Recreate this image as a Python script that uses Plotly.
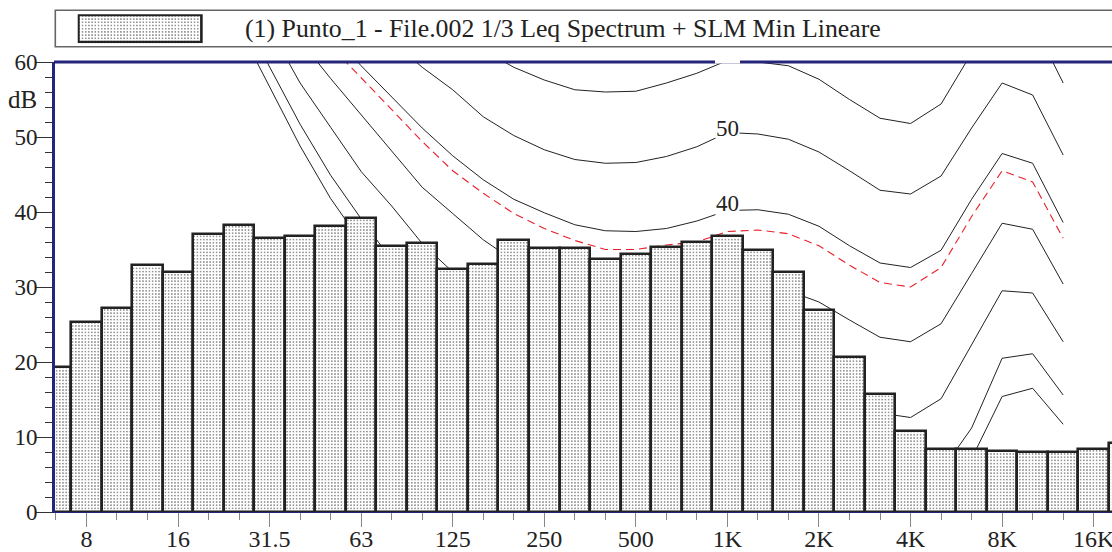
import plotly.graph_objects as go

# 1/3-octave band centre labels (6.3 Hz .. 20 kHz)
bands = ["6.3", "8", "10", "12.5", "16", "20", "25", "31.5", "40", "50", "63", "80",
         "100", "125", "160", "200", "250", "315", "400", "500", "630", "800", "1K",
         "1.25K", "1.6K", "2K", "2.5K", "3.15K", "4K", "5K", "6.3K", "8K", "10K",
         "12.5K", "16K", "20K"]

# Leq spectrum (dB)
leq = [19.3, 25.3, 27.2, 32.9, 32.0, 37.1, 38.3, 36.5, 36.8, 38.1, 39.2, 35.5,
       35.9, 32.4, 33.1, 36.3, 35.2, 35.2, 33.7, 34.4, 35.3, 36.0, 36.8, 34.9,
       32.0, 26.9, 20.7, 15.7, 10.8, 8.4, 8.4, 8.2, 8.0, 8.0, 8.4, 9.2]

N = None
# Equal-loudness contours (dB per band, None = not drawn)
curve_min = [N, N, N, N, N, N, 64.6, 56.7, 48.8, 41.8, 36.0, 28.0, 21.5, 17.0, 13.5,
             10.5, 8.5, 7.0, 6.0, 5.0, 4.5, 4.0, 4.0, 3.5, 3.0, 2.0, 1.0, 0.5, 0.5,
             1.5, 7.1, 15.4, 16.5, 11.7, N, N]
curve_10 = [N, N, N, N, N, N, 67.0, 59.3, 51.7, 44.9, 39.1, 33.6, 29.0, 25.0, 21.5,
            18.5, 16.0, 14.0, 12.5, 11.5, 11.0, 10.5, 10.0, 10.0, 9.5, 8.0, 6.0, 4.0,
            3.0, 5.4, 11.2, 20.5, 21.1, 15.6, N, N]
curve_20 = [N, N, N, N, N, N, N, 64.5, 57.2, 51.3, 45.4, 40.8, 35.8, 32.0, 29.0,
            26.5, 24.5, 23.0, 21.5, 20.5, 20.0, 20.0, 20.5, 20.5, 20.0, 18.0, 15.5,
            13.2, 12.6, 15.1, 22.3, 29.5, 29.2, 22.7, N, N]
curve_30 = [N, N, N, N, N, N, N, 69.0, 62.9, 57.8, 53.0, 48.1, 43.3, 39.8, 36.3,
            33.5, 32.0, 31.0, 30.0, 29.5, 29.5, 29.8, 30.0, 30.2, 29.5, 28.0, 25.6,
            23.3, 22.7, 25.1, 31.8, 38.5, 37.7, 30.4, N, N]
curve_40 = [N, N, N, N, N, N, N, N, 69.0, 63.9, 59.5, 55.4, 51.2, 47.5, 44.3, 41.7,
            39.9, 38.3, 37.5, 37.4, 37.8, 38.8, 40.2, 40.3, 39.7, 38.1, 35.5, 33.2,
            32.6, 34.9, 41.7, 47.8, 46.5, 38.6, N, N]
curve_50 = [N, N, N, N, N, N, N, N, N, N, 67.0, 62.8, 59.3, 56.3, 52.7, 50.2, 48.3,
            47.0, 46.5, 46.6, 47.4, 48.7, 50.6, 50.4, 49.7, 48.0, 45.5, 42.9, 42.4,
            44.8, 51.2, 57.2, 55.6, 47.6, N, N]
curve_60 = [N, N, N, N, N, N, N, N, N, N, N, N, N, 65.0, 61.6, 59.3, 57.6, 56.3,
            56.0, 56.1, 57.2, 58.5, 60.2, 60.0, 59.5, 57.7, 55.0, 52.5, 51.8, 54.4,
            61.2, 68.0, 65.4, 57.2, N, N]
slm_min = [N, N, N, N, N, N, N, N, 67.0, 62.1, 57.9, 53.7, 49.4, 45.5, 42.5, 39.8,
           37.8, 36.2, 35.0, 35.0, 35.6, 36.0, 37.4, 37.6, 37.1, 35.5, 32.9, 30.6,
           30.0, 32.6, 39.4, 45.5, 44.0, 36.5, N, N]

tick_labels = ["8", "16", "31.5", "63", "125", "250", "500", "1K", "2K", "4K", "8K", "16K"]
y_ticks = [0, 10, 20, 30, 40, 50, 60]
title_text = "(1) Punto_1 - File.002 1/3 Leq Spectrum + SLM Min Lineare"

W, H = 1112, 552
BOT = 40           # bottom margin (px)
PH = H - BOT       # paper height in px (top margin 0)
FONT = "Liberation Serif"
NAVY = "#25257a"
TXT = "#222222"

def px_x(p):
    return p / W

def px_y(p):
    return (PH - p) / PH

xs = list(range(len(bands)))
tick_pos = [bands.index(t) for t in tick_labels]
XR = [-0.03, 34.6]

fig = go.Figure()

# contours on the base axes (drawn below the bars)
for c in [curve_min, curve_10, curve_20, curve_30, curve_40, curve_50, curve_60]:
    fig.add_trace(go.Scatter(x=xs, y=c, mode="lines", xaxis="x", yaxis="y",
                             line=dict(color="#222222", width=1), hoverinfo="skip",
                             showlegend=False))
fig.add_trace(go.Scatter(x=xs, y=slm_min, mode="lines", xaxis="x", yaxis="y",
                         line=dict(color="#e8202a", width=1.1, dash="8px,5px"),
                         hoverinfo="skip", showlegend=False))

pattern = dict(shape=".", fgcolor="#111111", bgcolor="white", size=3.2,
               solidity=0.13, fillmode="replace")

# bars on an overlaying subplot so they cover the contours
fig.add_trace(go.Bar(x=xs, y=leq, xaxis="x2", yaxis="y2", width=1.0,
                     marker=dict(color="white", pattern=pattern,
                                 line=dict(color="#222222", width=2.6)),
                     hoverinfo="skip", showlegend=False))

# legend swatch
fig.add_trace(go.Bar(x=[0.5], y=[1], xaxis="x3", yaxis="y3", width=1.0,
                     marker=dict(color="white", pattern=pattern,
                                 line=dict(color="#222222", width=2.6)),
                     hoverinfo="skip", showlegend=False))

main_xdom = [px_x(55), 1.0]
main_ydom = [0.0, px_y(62)]

fig.update_layout(
    width=W, height=H, autosize=False,
    margin=dict(l=0, r=0, t=0, b=BOT, pad=0, autoexpand=False),
    paper_bgcolor="white", plot_bgcolor="white",
    bargap=0, barmode="overlay", showlegend=False,
    font=dict(family=FONT, color=TXT, size=23),
    xaxis=dict(domain=main_xdom, range=XR, anchor="y", automargin=False,
               tickmode="array", tickvals=tick_pos, ticktext=tick_labels,
               ticks="outside", ticklen=14, tickwidth=1.2, tickcolor="#888888",
               minor=dict(tickmode="linear", tick0=0, dtick=1, ticks="outside",
                          ticklen=7, tickwidth=1.2, tickcolor="#888888"),
               showline=True, linecolor=NAVY, linewidth=1.2,
               showgrid=False, zeroline=False, ticklabeloverflow="allow",
               ticklabelstandoff=-9,
               tickfont=dict(family=FONT, size=24, color=TXT), fixedrange=True),
    yaxis=dict(domain=main_ydom, range=[0, 60], anchor="x", automargin=False,
               tickmode="array", tickvals=y_ticks,
               ticks="outside", ticklen=16, tickwidth=1.2, tickcolor="#333333",
               minor=dict(tickmode="linear", tick0=0, dtick=2, ticks="outside",
                          ticklen=7, tickwidth=1.2, tickcolor="#333333"),
               showline=True, linecolor=NAVY, linewidth=2.6,
               showgrid=False, zeroline=False, ticklabeloverflow="allow",
               ticklabelstandoff=-6,
               tickfont=dict(family=FONT, size=23, color=TXT), fixedrange=True),
    xaxis2=dict(overlaying="x", range=XR, visible=False, fixedrange=True,
                automargin=False),
    yaxis2=dict(overlaying="y", range=[0, 60], visible=False, fixedrange=True,
                automargin=False),
    xaxis3=dict(domain=[px_x(77.7), px_x(203.3)], anchor="y3", range=[-0.01, 1.01],
                visible=False, fixedrange=True, automargin=False),
    yaxis3=dict(domain=[px_y(43.3), px_y(14.3)], anchor="x3", range=[-0.03, 1.03],
                visible=False, fixedrange=True, automargin=False),
    shapes=[
        # legend frame
        dict(type="rect", xref="paper", yref="paper",
             x0=px_x(55.3), x1=px_x(1120), y0=px_y(46.7), y1=px_y(10.3),
             line=dict(color="#666666", width=1.6), fillcolor="rgba(0,0,0,0)"),
        # top border of plot
        dict(type="line", xref="paper", yref="paper",
             x0=px_x(54), x1=1.0, y0=px_y(62), y1=px_y(62),
             line=dict(color=NAVY, width=3)),
        # hidden "60" label box at the top
        dict(type="rect", xref="paper", yref="paper",
             x0=px_x(715), x1=px_x(740), y0=px_y(63.5), y1=px_y(58),
             line=dict(width=0), fillcolor="white"),
    ],
    annotations=[
        dict(text=title_text, xref="paper", yref="paper", x=px_x(243), y=px_y(28.5),
             xanchor="left", yanchor="middle", showarrow=False,
             font=dict(family=FONT, size=25.8, color=TXT)),
        dict(text="dB", xref="paper", yref="y", x=px_x(39), y=55,
             xanchor="right", yanchor="middle", showarrow=False,
             font=dict(family=FONT, size=25, color=TXT)),
        dict(text="50", xref="x", yref="y", x=22, y=51.1, showarrow=False,
             bgcolor="white", borderpad=0, xanchor="center", yanchor="middle",
             font=dict(family=FONT, size=23, color=TXT)),
        dict(text="40", xref="x", yref="y", x=22, y=41.2, showarrow=False,
             bgcolor="white", borderpad=0, xanchor="center", yanchor="middle",
             font=dict(family=FONT, size=23, color=TXT)),
    ],
)

fig.write_html("out.html", config={"displayModeBar": False})
